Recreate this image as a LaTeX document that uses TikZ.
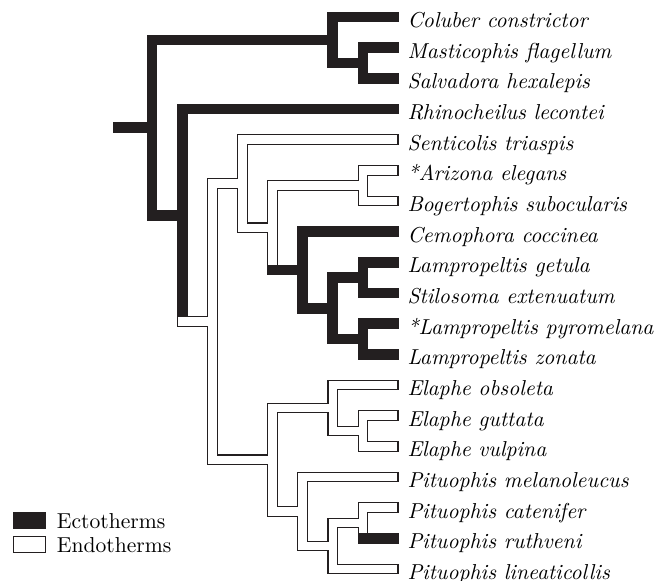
\documentclass[tikz,border=0pt]{standalone}
\usepackage{tikz}
\usetikzlibrary{positioning}
\definecolor{ectoblack}{RGB}{35,31,32}

\begin{document}
\begin{tikzpicture}[x=15.07pt, y=-15.335pt,
    ecto/.style={draw=ectoblack, line width=5.4pt, line cap=rect},
    endo/.style={draw=ectoblack, line width=0.55pt, double=white, double distance=4.3pt, line cap=rect},
    taxon/.style={anchor=base west, inner sep=0pt, xshift=7pt, yshift=-5.2pt, font=\fontsize{10.8}{13}\selectfont\itshape},
    keybox/.style={draw=ectoblack, line width=0.55pt, minimum width=15.8pt, minimum height=7.9pt, inner sep=0pt},
    keytext/.style={inner sep=0pt, font=\fontsize{10.8}{13}\selectfont}]
  \useasboundingbox (-5.043,-0.554) rectangle (17.253,18.389);
  \foreach \name [count=\i from 0] in {Coluber constrictor, Masticophis flagellum, Salvadora hexalepis,
      Rhinocheilus lecontei, Senticolis triaspis, *Arizona elegans, Bogertophis subocularis,
      Cemophora coccinea, Lampropeltis getula, Stilosoma extenuatum, *Lampropeltis pyromelana,
      Lampropeltis zonata, Elaphe obsoleta, Elaphe guttata, Elaphe vulpina, Pituophis melanoleucus,
      Pituophis catenifer, Pituophis ruthveni, Pituophis lineaticollis} {
    \coordinate (e\i) at (8,\i);
    \node[taxon] (t\i) at (e\i) {\name};
  }
  \coordinate (base) at (-1.12,3.609);
  \coordinate (root) at (0,3.609);
  \coordinate (colA) at (6,0.75);
  \coordinate (colB) at (7,1.5);
  \coordinate (rhin) at (1,6.469);
  \coordinate (lamp) at (2,9.938);
  \coordinate (sent) at (3,5.438);
  \coordinate (ariz) at (4,6.875);
  \coordinate (bogA) at (7,5.5);
  \coordinate (cemA) at (5,8.25);
  \coordinate (cemB) at (6,9.5);
  \coordinate (getA) at (7,8.5);
  \coordinate (pyrA) at (7,10.5);
  \coordinate (elpi) at (4,14.438);
  \coordinate (elaA) at (6,12.75);
  \coordinate (elaB) at (7,13.5);
  \coordinate (pitA) at (5,16.125);
  \coordinate (pitB) at (6,17.25);
  \coordinate (pitC) at (7,16.5);
  % ectotherm branches
  \draw[ecto] (base) -- (root)
    (root) |- (colA) (colA) |- (e0) (colA) |- (colB) (colB) |- (e1) (colB) |- (e2)
    (root) |- (rhin) (rhin) |- (e3) (rhin) |- (lamp);
  % endotherm branches
  \draw[endo] (rhin |- lamp) -- (lamp)
    (lamp) |- (sent) (sent) |- (e4) (sent) |- (ariz) (ariz) |- (bogA) (bogA) |- (e5) (bogA) |- (e6)
    (ariz) -- (ariz |- cemA)
    (lamp) |- (elpi) (elpi) |- (elaA) (elaA) |- (e12) (elaA) |- (elaB) (elaB) |- (e13) (elaB) |- (e14)
    (elpi) |- (pitA) (pitA) |- (e15) (pitA) |- (pitB) (pitB) |- (pitC) (pitB) |- (e18)
    (pitC) |- (e16) (pitC) -- (pitC |- e17);
  \draw[ecto] (ariz |- cemA) -- (cemA)
    (cemA) |- (e7) (cemA) |- (cemB) (cemB) |- (getA) (getA) |- (e8) (getA) |- (e9)
    (cemB) |- (pyrA) (pyrA) |- (e10) (pyrA) |- (e11)
    (pitC |- e17) -- (e17);
  % legend
  \node[keybox, fill=ectoblack] (ectokey) at (-4.064,16.43) {};
  \node[keybox, fill=white] (endokey) at (-4.064,17.21) {};
  \node[keytext, right=5.3pt of ectokey] (ectolabel) {Ectotherms};
  \node[keytext, right=5.3pt of endokey] (endolabel) {Endotherms};
\end{tikzpicture}
\end{document}
